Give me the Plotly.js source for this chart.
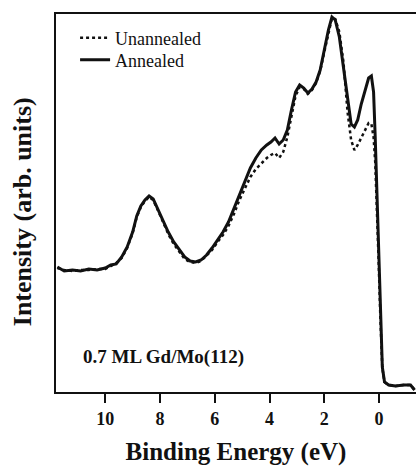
<!DOCTYPE html>
<html><head><meta charset="utf-8">
<script src="https://cdn.plot.ly/plotly-3.0.1.min.js"></script>
<style>html,body{margin:0;padding:0;background:#fff}#c{width:416px;height:466px}</style>
</head><body><div id="c"></div>
<script>
const energy = [11.75,11.5,11.2,10.9,10.6,10.3,10.0,9.8,9.6,9.4,9.2,9.0,8.85,8.7,8.55,8.4,8.25,8.1,7.9,7.7,7.5,7.3,7.1,6.9,6.7,6.5,6.3,6.1,5.9,5.7,5.5,5.3,5.1,4.9,4.7,4.5,4.3,4.1,3.95,3.8,3.65,3.5,3.35,3.2,3.05,2.9,2.75,2.6,2.45,2.3,2.15,2.0,1.85,1.72,1.6,1.45,1.3,1.15,1.02,0.9,0.78,0.65,0.5,0.38,0.28,0.2,0.14,0.08,0.02,-0.05,-0.12,-0.2,-0.35,-0.6,-0.9,-1.15,-1.3];
const annealed = [125,121,122,121,123,122,124,127,128,135,145,160,176,186,192,196,193,184,172,160,150,142,135,131,130,132,137,144,152,160,170,184,198,212,224,234,242,247,250,254,248,252,262,282,300,307,304,299,303,310,322,342,362,375,372,355,325,290,268,265,272,288,304,314,316,300,255,200,140,75,25,10,7,6,7,7,2];
const unannealed = [124,122,121,122,122,123,123,126,129,134,144,159,175,185,191,195,192,183,170,158,148,140,133,130,129,131,136,142,150,157,166,178,192,204,215,223,229,234,237,239,234,240,255,276,296,305,303,298,302,309,321,340,360,374,373,360,330,280,252,242,247,254,262,269,268,255,230,190,135,73,24,10,7,6,7,7,2];
const tickVals = [10,8,6,4,2,0];
const tickText = ['10','8','6','4','2','0'];

const serif = "'Liberation Serif'";
const traces = [
  {x: energy, y: unannealed, name: 'Unannealed', mode: 'lines', legend: 'legend', line: {color: '#111', width: 2.5, dash: 'dot'}},
  {x: energy, y: annealed, name: 'Annealed', mode: 'lines', legend: 'legend2', line: {color: '#111', width: 3}}
];
const legFont = {family: serif, size: 18, color: '#111'};
const layout = {
  width: 416, height: 466,
  margin: {l: 56, r: 0, t: 14, b: 74},
  paper_bgcolor: '#fff', plot_bgcolor: '#fff',
  showlegend: true,
  legend: {x: 0.053, y: 0.985, xanchor: 'left', yanchor: 'top', bgcolor: 'rgba(0,0,0,0)', font: legFont},
  legend2: {x: 0.053, y: 0.927, xanchor: 'left', yanchor: 'top', bgcolor: 'rgba(0,0,0,0)', font: legFont},
  xaxis: {range: [11.8, -1.35], autorange: false, showgrid: false, zeroline: false,
          showline: true, mirror: true, linecolor: '#111', linewidth: 2,
          ticks: 'outside', ticklen: 9, tickwidth: 2, tickcolor: '#111',
          tickvals: tickVals, ticktext: tickText,
          tickfont: {family: serif, size: 18, color: '#111', weight: 'bold'},
          title: {text: '<b>Binding Energy (eV)</b>', font: {family: serif, size: 25, color: '#111'}, standoff: 15}},
  yaxis: {range: [0, 378], autorange: false, showgrid: false, zeroline: false,
          showline: true, linecolor: '#111', linewidth: 2, ticks: '', showticklabels: false},
  annotations: [
    {xref: 'paper', yref: 'paper', x: -0.094, y: 0.476, xanchor: 'center', yanchor: 'middle', textangle: -90,
     text: '<b>Intensity (arb. units)</b>', showarrow: false, font: {family: serif, size: 26, color: '#111'}},
    {xref: 'paper', yref: 'paper', x: 0.07, y: 0.092, xanchor: 'left', yanchor: 'middle',
     text: '<b>0.7 ML Gd/Mo(112)</b>', showarrow: false, font: {family: serif, size: 19, color: '#111'}}]
};
Plotly.newPlot('c', traces, layout, {displayModeBar: false, staticPlot: true});
</script></body></html>
